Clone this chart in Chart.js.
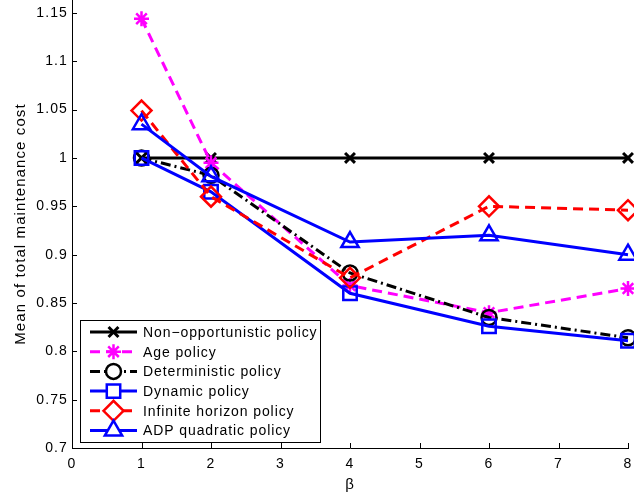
<!DOCTYPE html>
<html>
<head>
<meta charset="utf-8">
<script src="https://cdn.jsdelivr.net/npm/chart.js@4.4.1/dist/chart.umd.min.js"></script>
<style>
  html, body { margin: 0; padding: 0; background: #fff; }
  #wrap { width: 634px; height: 497px; position: relative; }
</style>
</head>
<body>
<div id="wrap"><canvas id="miGrafica"></canvas></div>
<script>
// valores
const betas = [1, 2, 4, 6, 8];
const nonOpp = [1.0, 1.0, 1.0, 1.0, 1.0];
const agePol = [1.144, 0.995, 0.868, 0.840, 0.865];
const determ = [1.0, 0.982, 0.881, 0.835, 0.814];
const dynamicPol = [1.0, 0.965, 0.860, 0.826, 0.811];
const infHorizon = [1.049, 0.960, 0.876, 0.950, 0.946];
const adpQuad = [1.035, 0.981, 0.913, 0.920, 0.900];
const yTicks = [0.7, 0.75, 0.8, 0.85, 0.9, 0.95, 1, 1.05, 1.1, 1.15];
const xTicks = [0, 1, 2, 3, 4, 5, 6, 7, 8];
const etiquetas = [
  'Non\u2212opportunistic policy',
  'Age policy',
  'Deterministic policy',
  'Dynamic policy',
  'Infinite horizon policy',
  'ADP quadratic policy'
];

const FONT = 'Liberation Sans, Arial, Helvetica, sans-serif';

function serie(vals, i, color, style, radius, dash, pw) {
  return {
    label: etiquetas[i],
    data: betas.map((b, k) => ({ x: b, y: vals[k] })),
    borderColor: color,
    backgroundColor: color,
    borderWidth: 3,
    borderDash: dash,
    pointStyle: style,
    pointRadius: radius,
    pointHoverRadius: radius,
    pointBorderWidth: pw,
    pointBorderColor: color,
    pointBackgroundColor: 'rgba(0,0,0,0)',
    fill: false,
    tension: 0,
    clip: false,
    order: 10 - i
  };
}

const datosGraf = [
  serie(nonOpp, 0, '#000000', 'crossRot', 7, [], 3),
  serie(agePol, 1, '#ff00ff', 'star', 7.5, [10, 6], 2.5),
  serie(determ, 2, '#000000', 'circle', 7.5, [10, 4, 2, 4], 2.5),
  serie(dynamicPol, 3, '#0000ff', 'rect', 9.5, [], 2.5),
  serie(infHorizon, 4, '#ff0000', 'rectRot', 10, [10, 6], 2.5),
  serie(adpQuad, 5, '#0000ff', 'triangle', 10, [], 2.5)
];

// espaciado de letras parecido al de la figura original
const espaciado = {
  id: 'espaciado',
  beforeDraw(chart) {
    if ('letterSpacing' in chart.ctx) chart.ctx.letterSpacing = '1.1px';
  }
};

// marcas hacia adentro y leyenda dentro del area
const extras = {
  id: 'extras',
  afterDatasetsDraw(chart) {
    const ctx = chart.ctx;
    const xs = chart.scales.x, ys = chart.scales.y;
    const area = chart.chartArea;
    ctx.save();
    ctx.strokeStyle = '#000';
    ctx.lineWidth = 1;
    ctx.setLineDash([]);
    for (const v of xTicks) {
      const px = Math.round(xs.getPixelForValue(v)) + 0.5;
      ctx.beginPath();
      ctx.moveTo(px, area.bottom);
      ctx.lineTo(px, area.bottom - 5);
      ctx.stroke();
    }
    for (const v of yTicks) {
      const py = Math.round(ys.getPixelForValue(v)) + 0.5;
      ctx.beginPath();
      ctx.moveTo(area.left, py);
      ctx.lineTo(area.left + 5, py);
      ctx.stroke();
    }

    // leyenda
    const lx = 80.5, ly = 320.5, lw = 240, lh = 122;
    ctx.fillStyle = '#fff';
    ctx.fillRect(lx, ly, lw, lh);
    ctx.strokeRect(lx, ly, lw, lh);
    ctx.font = '14px ' + FONT;
    if ('letterSpacing' in ctx) ctx.letterSpacing = '0.9px';
    ctx.textBaseline = 'middle';
    ctx.textAlign = 'left';
    chart.data.datasets.forEach((ds, i) => {
      const cy = 332 + i * 19.7;
      ctx.save();
      ctx.strokeStyle = ds.borderColor;
      ctx.lineWidth = 3;
      ctx.setLineDash(ds.borderDash || []);
      ctx.beginPath();
      ctx.moveTo(90, cy);
      ctx.lineTo(137, cy);
      ctx.stroke();
      ctx.restore();
      ctx.save();
      ctx.setLineDash([]);
      ctx.strokeStyle = ds.pointBorderColor;
      ctx.fillStyle = '#fff';
      ctx.lineWidth = ds.pointBorderWidth;
      Chart.helpers.drawPoint(ctx, {
        pointStyle: ds.pointStyle,
        radius: ds.pointRadius,
        rotation: 0,
        borderWidth: ds.pointBorderWidth
      }, 113.5, cy);
      ctx.restore();
      ctx.fillStyle = '#000';
      ctx.fillText(ds.label, 143, cy + 1);
    });
    ctx.restore();
  }
};

const grafica = new Chart(document.getElementById('miGrafica').getContext('2d'), {
  type: 'line',
  data: { datasets: datosGraf },
  options: {
    responsive: true,
    maintainAspectRatio: false,
    animation: false,
    events: [],
    layout: { autoPadding: false, padding: { left: 0, right: 6, top: 0, bottom: 0 } },
    plugins: { legend: { display: false }, tooltip: { enabled: false } },
    scales: {
      x: {
        type: 'linear',
        min: 0,
        max: 8,
        grid: { display: false, drawTicks: false },
        border: { display: true, color: '#000', width: 1 },
        afterBuildTicks: s => { s.ticks = xTicks.map(v => ({ value: v })); },
        afterFit: s => { s.height = 49; s.paddingLeft = 0; s.paddingRight = 0; },
        ticks: { color: '#000', padding: 8, maxRotation: 0, font: { family: FONT, size: 14 } },
        title: { display: true, text: '\u03b2', color: '#000', font: { family: FONT, size: 15 }, padding: 3 }
      },
      y: {
        type: 'linear',
        min: 0.7,
        max: 1.1634,
        grid: { display: false, drawTicks: false },
        border: { display: true, color: '#000', width: 1 },
        afterBuildTicks: s => { s.ticks = yTicks.map(v => ({ value: v })); },
        afterFit: s => { s.width = 72; s.paddingTop = 0; s.paddingBottom = 0; },
        ticks: {
          color: '#000',
          padding: 4,
          font: { family: FONT, size: 14 },
          callback: v => String(+v.toFixed(2))
        },
        title: {
          display: true,
          text: 'Mean of total maintenance cost',
          color: '#000',
          font: { family: FONT, size: 15 },
          padding: { top: 12, bottom: 0 }
        }
      }
    }
  },
  plugins: [espaciado, extras]
});
</script>
</body>
</html>
